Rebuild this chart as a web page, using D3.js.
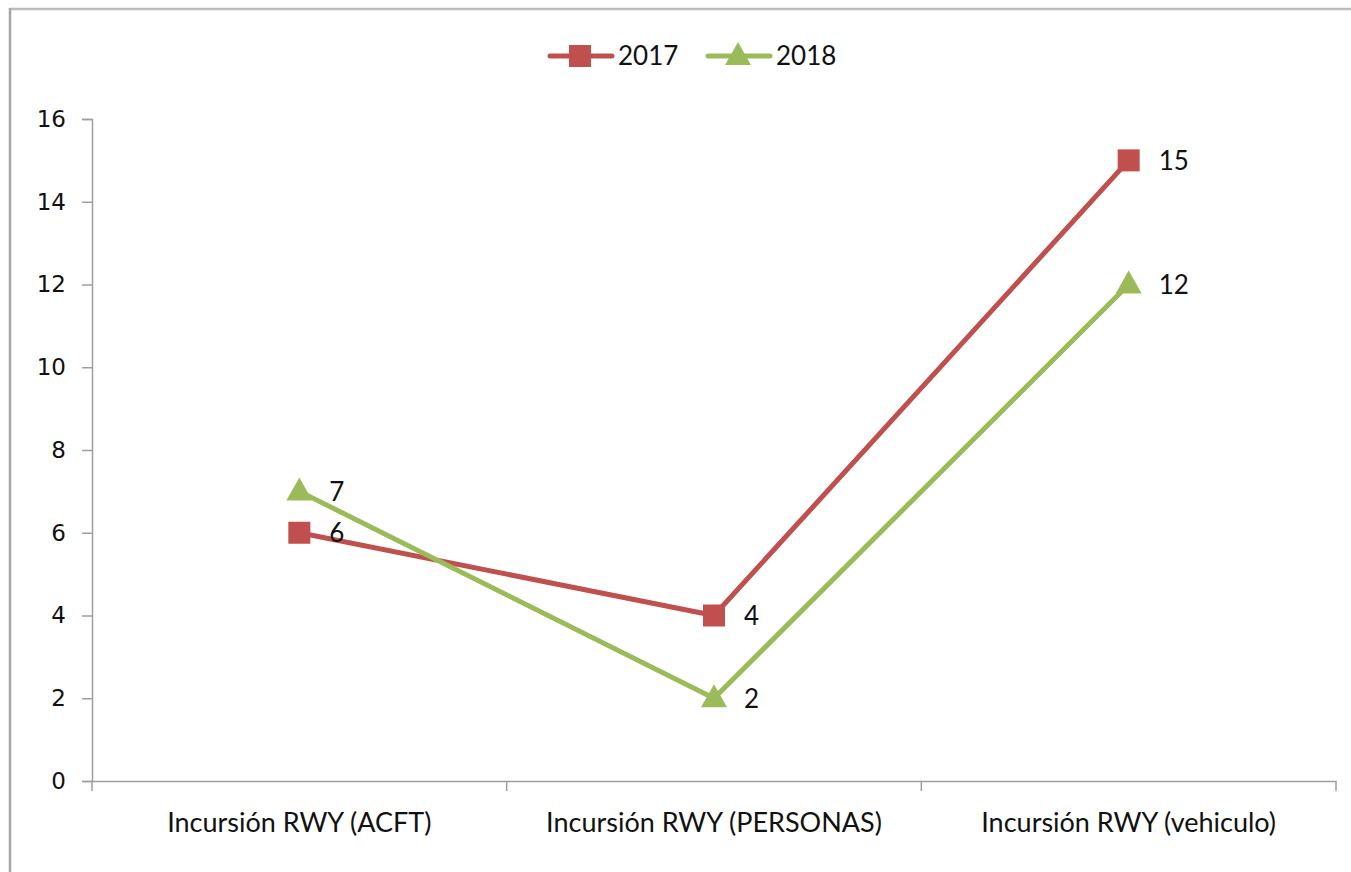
<!DOCTYPE html>
<html>
<head>
<meta charset="utf-8">
<script src="https://cdn.jsdelivr.net/npm/d3@7.9.0/dist/d3.min.js"></script>
<style>
  body { margin: 0; background: #fff; }
  svg { display: block; }
</style>
</head>
<body>
<script>
// ─── DATA ────────────────────────────────────────────────────────────────────
const categories = ['Incursión RWY (ACFT)', 'Incursión RWY (PERSONAS)', 'Incursión RWY (vehiculo)'];
const values2017 = [6, 4, 15];
const values2018 = [7, 2, 12];
const yTicks = [0, 2, 4, 6, 8, 10, 12, 14, 16];

const series = [
  { name: '2017', values: values2017, color: '#C0504D', marker: 'square' },
  { name: '2018', values: values2018, color: '#9BBB59', marker: 'triangle' }
];

// ─── LAYOUT ──────────────────────────────────────────────────────────────────
const W = 1351, H = 872;
const plot = { left: 92, right: 1336, top: 119, bottom: 781 };

const svg = d3.select('body').append('svg')
  .attr('width', W).attr('height', H);

// outer chart border (top + left visible)
svg.append('line').attr('x1', 9).attr('x2', W).attr('y1', 9).attr('y2', 9)
  .attr('stroke', '#bdbdbd').attr('stroke-width', 2.5);
svg.append('line').attr('x1', 10).attr('x2', 10).attr('y1', 8).attr('y2', H)
  .attr('stroke', '#a6a6a6').attr('stroke-width', 2.5);

// ─── SCALES ──────────────────────────────────────────────────────────────────
const x = d3.scaleBand().domain(categories).range([plot.left, plot.right]);
const y = d3.scaleLinear().domain([0, 16]).range([plot.bottom, plot.top]);
const cx = c => x(c) + x.bandwidth() / 2;

// ─── AXES ────────────────────────────────────────────────────────────────────
const yAxis = svg.append('g')
  .attr('transform', `translate(${plot.left},0)`)
  .call(d3.axisLeft(y).tickValues(yTicks).tickSize(10).tickPadding(16));
yAxis.select('.domain').attr('stroke', '#9e9e9e').attr('stroke-width', 1.5);
yAxis.selectAll('.tick line').attr('stroke', '#9e9e9e').attr('stroke-width', 1.5);
yAxis.selectAll('.tick text')
  .attr('font-family', 'DejaVu Sans, sans-serif').attr('font-size', 23).attr('fill', '#111');

const xAxis = svg.append('g')
  .attr('transform', `translate(0,${plot.bottom})`)
  .call(d3.axisBottom(x).tickSize(0).tickPadding(32));
xAxis.select('.domain').attr('stroke', '#9e9e9e').attr('stroke-width', 1.5);
xAxis.selectAll('.tick text')
  .attr('font-family', 'Lato, sans-serif').attr('font-size', 27).attr('fill', '#111');

// category boundary ticks
const bounds = [plot.left, ...categories.slice(1).map(c => x(c)), plot.right];
svg.append('g').selectAll('line').data(bounds).join('line')
  .attr('x1', d => d).attr('x2', d => d)
  .attr('y1', plot.bottom).attr('y2', plot.bottom + 10)
  .attr('stroke', '#9e9e9e').attr('stroke-width', 1.5);

// ─── SERIES ──────────────────────────────────────────────────────────────────
const line = d3.line().x((d, i) => cx(categories[i])).y(d => y(d));

function drawMarker(g, type, color, px, py) {
  if (type === 'square') {
    g.append('rect')
      .attr('x', px - 11).attr('y', py - 11)
      .attr('width', 22).attr('height', 22)
      .attr('fill', color);
  } else {
    g.append('path')
      .attr('d', `M${px},${py - 14} L${px + 13},${py + 9} L${px - 13},${py + 9} Z`)
      .attr('fill', color);
  }
}

series.forEach(s => {
  svg.append('path')
    .datum(s.values)
    .attr('fill', 'none')
    .attr('stroke', s.color)
    .attr('stroke-width', 5)
    .attr('stroke-linejoin', 'round')
    .attr('d', line);
});

series.forEach(s => {
  const g = svg.append('g');
  s.values.forEach((v, i) => {
    drawMarker(g, s.marker, s.color, cx(categories[i]), y(v));
    g.append('text')
      .attr('x', cx(categories[i]) + 30)
      .attr('y', y(v))
      .attr('dy', '0.36em')
      .attr('font-family', 'Lato, sans-serif')
      .attr('font-size', 26)
      .attr('fill', '#111')
      .text(v);
  });
});

// ─── LEGEND ──────────────────────────────────────────────────────────────────
const legendY = 56;
const legendItems = [
  { s: series[0], x0: 550 },
  { s: series[1], x0: 708 }
];
legendItems.forEach(({ s, x0 }) => {
  const g = svg.append('g');
  g.append('line')
    .attr('x1', x0).attr('x2', x0 + 62)
    .attr('y1', legendY).attr('y2', legendY)
    .attr('stroke', s.color).attr('stroke-width', 5).attr('stroke-linecap', 'round');
  drawMarker(g, s.marker, s.color, x0 + 30, legendY);
  g.append('text')
    .attr('x', x0 + 68).attr('y', legendY)
    .attr('dy', '0.36em')
    .attr('font-family', 'Lato, sans-serif')
    .attr('font-size', 26)
    .attr('fill', '#111')
    .text(s.name);
});
</script>
</body>
</html>
